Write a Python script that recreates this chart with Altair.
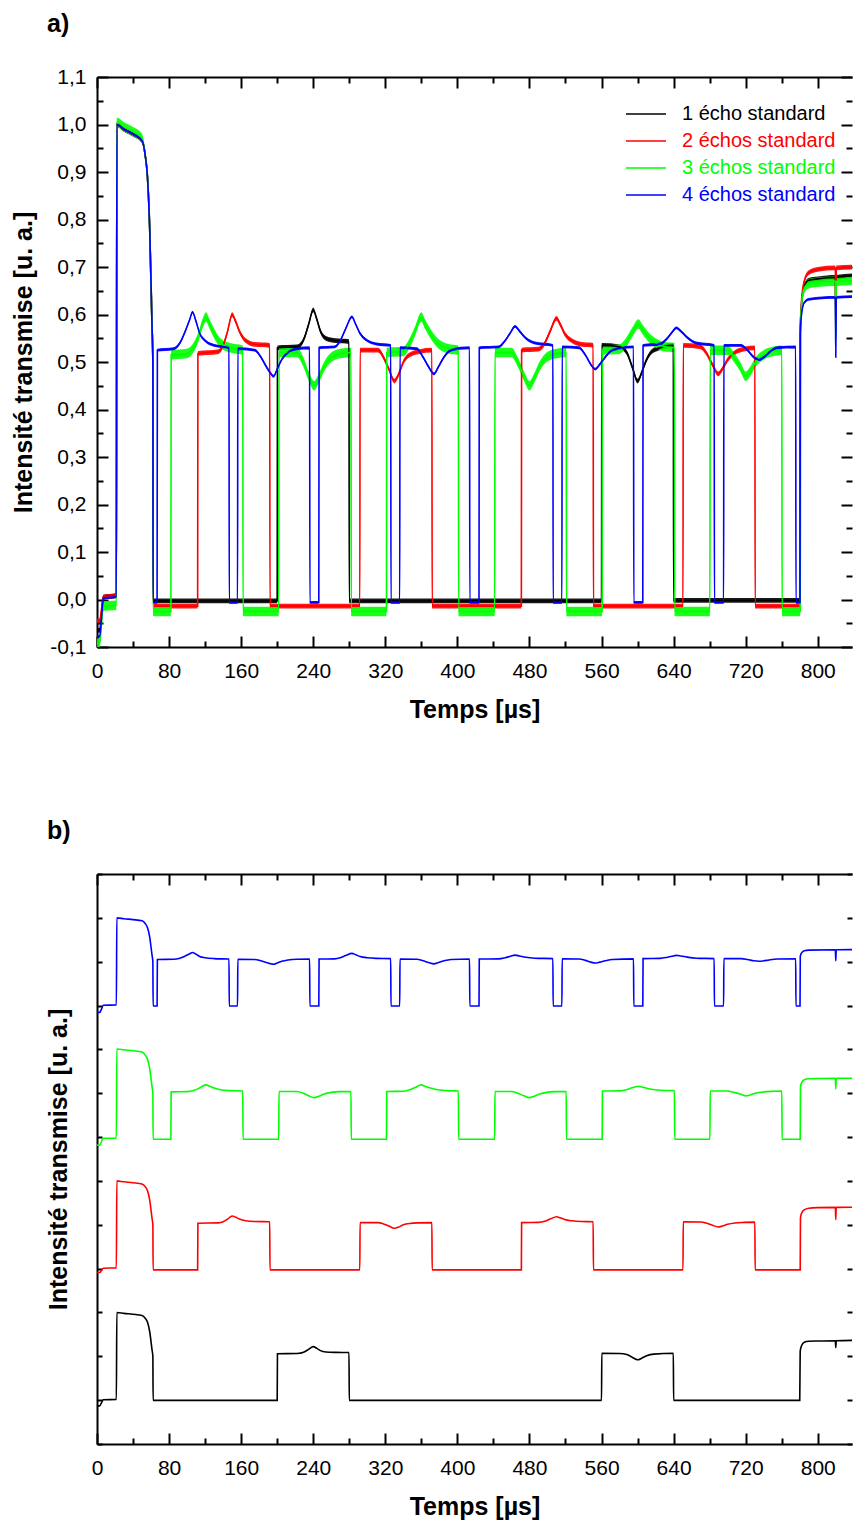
import json
import altair as alt
import pandas as pd

FONT = "Liberation Sans"

SERIES = ["1 écho standard", "2 échos standard", "3 échos standard", "4 échos standard"]
COLORS = ["#000000", "#ff0000", "#00ff00", "#0000ff"]
OFFSETS_B = [0.0, 1.5, 3.0, 4.5]
# half-width of the measurement noise band seen in panel a (intensity units)
NOISE = [0.005, 0.005, 0.01, 0.003]

# (time [µs], transmitted intensity [a.u.])
BLACK = [
    (0, -0.065), (3, -0.065), (5, -0.03), (7, 0.005), (21.5, 0.008), (22, 1.0), (30, 0.99), (40, 0.98),
    (50, 0.966), (53.5, 0.935), (56, 0.89), (58.5, 0.78), (61, 0.58), (62, 0.5), (62.3, -0.003),
    (200, -0.003), (200.3, 0.53), (222, 0.532), (230, 0.55), (235, 0.58), (240, 0.61), (244, 0.59),
    (248, 0.565), (254, 0.55), (265, 0.545), (279.7, 0.543), (280, -0.003),
    (560, -0.003), (560.3, 0.535), (580, 0.532), (588, 0.52), (594, 0.49), (600, 0.46), (605, 0.48),
    (610, 0.505), (618, 0.525), (639.7, 0.535), (640, -0.002),
    (780, -0.002), (780.5, 0.56), (782, 0.62), (785, 0.66), (790, 0.672), (800, 0.675), (819.5, 0.678),
    (820, 0.6), (820.5, 0.678), (846, 0.682),
]
RED = [
    (0, -0.045), (3, -0.045), (5, -0.02), (7, 0.005), (21.5, 0.008), (22, 1.0), (30, 0.99), (40, 0.98),
    (50, 0.966), (53.5, 0.935), (56, 0.89), (58.5, 0.78), (61, 0.58), (62, 0.5), (62.3, -0.014),
    (111.7, -0.014), (112, 0.518), (135, 0.522), (140, 0.535), (145, 0.565), (150, 0.6), (154, 0.585),
    (158, 0.565), (165, 0.545), (175, 0.537), (191.7, 0.535), (192, -0.014),
    (291.7, -0.014), (292, 0.525), (312, 0.525), (318, 0.51), (324, 0.485), (330, 0.46), (335, 0.475),
    (340, 0.5), (347, 0.515), (358, 0.522), (371.7, 0.525), (372, -0.014),
    (471, -0.014), (471.3, 0.525), (490, 0.527), (497, 0.54), (503, 0.565), (510, 0.592), (514, 0.58),
    (519, 0.56), (527, 0.545), (538, 0.537), (550.7, 0.535), (551, -0.014),
    (650.4, -0.014), (650.7, 0.535), (670, 0.532), (676, 0.52), (683, 0.495), (689.6, 0.475), (694, 0.485),
    (700, 0.505), (708, 0.52), (718, 0.527), (730.2, 0.53), (730.5, -0.014),
    (780.5, -0.014), (780.8, 0.58), (782, 0.63), (785, 0.67), (790, 0.688), (800, 0.695), (819.5, 0.698),
    (820, 0.56), (820.5, 0.698), (846, 0.7),
]
GREEN = [
    (0, -0.092), (3, -0.092), (5, -0.05), (7, -0.014), (21.5, -0.012), (22, 1.005), (30, 0.995), (40, 0.985),
    (50, 0.97), (53.5, 0.935), (56, 0.89), (58.5, 0.78), (61, 0.58), (62, 0.5), (62.3, -0.025),
    (82, -0.025), (82.3, 0.515), (100, 0.518), (107, 0.53), (113, 0.555), (117, 0.58), (121, 0.595),
    (125, 0.58), (130, 0.56), (137, 0.54), (148, 0.53), (161.8, 0.525), (162.1, -0.025),
    (201.7, -0.025), (202, 0.52), (222, 0.52), (229, 0.5), (235, 0.47), (241, 0.45), (246, 0.465),
    (252, 0.49), (260, 0.51), (270, 0.518), (281.9, 0.52), (282.2, -0.025),
    (321.3, -0.025), (321.6, 0.52), (340, 0.522), (347, 0.54), (353, 0.565), (360, 0.595), (364, 0.58),
    (370, 0.56), (378, 0.54), (390, 0.528), (401.1, 0.525), (401.4, -0.025),
    (441.4, -0.025), (441.7, 0.52), (460, 0.52), (467, 0.5), (474, 0.47), (480, 0.45), (485, 0.465),
    (491, 0.49), (499, 0.51), (510, 0.518), (520.8, 0.52), (521.1, -0.025),
    (560.7, -0.025), (561, 0.525), (580, 0.527), (587, 0.54), (594, 0.562), (601, 0.58), (605, 0.57),
    (611, 0.555), (620, 0.54), (630, 0.532), (640.9, 0.53), (641.2, -0.025),
    (680.3, -0.025), (680.6, 0.525), (700, 0.525), (707, 0.51), (714, 0.49), (720, 0.47), (725, 0.48),
    (731, 0.5), (740, 0.515), (750, 0.522), (760.1, 0.525), (760.4, -0.025),
    (780.5, -0.025), (780.8, 0.57), (782, 0.62), (785, 0.655), (790, 0.665), (800, 0.668), (819.5, 0.67),
    (820, 0.55), (820.5, 0.67), (846, 0.672),
]
BLUE = [
    (0, -0.078), (3, -0.078), (5, -0.04), (7, 0.003), (21.5, 0.006), (22, 1.0), (30, 0.99), (40, 0.98),
    (50, 0.966), (53.5, 0.935), (56, 0.89), (58.5, 0.78), (61, 0.58), (62, 0.5), (62.3, -0.006),
    (66.7, -0.006), (67, 0.525),
    (85, 0.528), (92, 0.54), (98, 0.565), (103, 0.59), (106, 0.605), (110, 0.585), (114, 0.56), (120, 0.545),
    (130, 0.535), (146.5, 0.53), (146.8, -0.006), (156, -0.006), (156.3, 0.528),
    (175, 0.525), (182, 0.51), (188, 0.49), (192, 0.478), (196, 0.47), (200, 0.485), (205, 0.505),
    (212, 0.52), (222, 0.528), (236, 0.53), (236.3, -0.006), (246.2, -0.006), (246.5, 0.53),
    (264, 0.532), (270, 0.545), (276, 0.57), (283, 0.595), (287, 0.58), (292, 0.56), (300, 0.545),
    (310, 0.538), (326, 0.535), (326.3, -0.006), (336, -0.006), (336.3, 0.53),
    (355, 0.528), (362, 0.51), (368, 0.49), (374, 0.475), (379, 0.49), (385, 0.51), (393, 0.525),
    (413.5, 0.53), (413.8, -0.006), (424, -0.006), (424.3, 0.53),
    (446, 0.532), (453, 0.545), (459, 0.562), (464, 0.575), (469, 0.565), (476, 0.55), (486, 0.54),
    (506, 0.535), (506.3, -0.006), (516, -0.006), (516.3, 0.532),
    (535, 0.53), (542, 0.515), (548, 0.495), (553, 0.485), (558, 0.495), (564, 0.51), (572, 0.525),
    (595.5, 0.532), (595.8, -0.006), (605.8, -0.006), (606.1, 0.535),
    (625, 0.538), (632, 0.548), (638, 0.562), (643, 0.572), (648, 0.565), (655, 0.552), (665, 0.54),
    (685, 0.535), (685.3, -0.006), (695.5, -0.006), (695.8, 0.535),
    (715, 0.535), (722, 0.525), (729, 0.51), (735, 0.505), (740, 0.51), (746, 0.52), (755, 0.53),
    (775.5, 0.532), (775.8, -0.006), (780.3, -0.006), (780.6, 0.56), (782, 0.6), (785, 0.625), (790, 0.632),
    (819.5, 0.636), (820, 0.51), (820.5, 0.636), (846, 0.638),
]

X_DOMAIN = [0, 838]
X_TICKS = [0, 40, 80, 120, 160, 200, 240, 280, 320, 360, 400, 440, 480, 520, 560, 600, 640, 680, 720, 760, 800]
YA_DOMAIN = [-0.1, 1.1]
YA_TICKS = [-0.1, -0.05, 0.0, 0.05, 0.1, 0.15, 0.2, 0.25, 0.3, 0.35, 0.4, 0.45, 0.5, 0.55, 0.6, 0.65,
            0.7, 0.75, 0.8, 0.85, 0.9, 0.95, 1.0, 1.05, 1.1]
YB_DOMAIN = [-0.5, 6.0]
YB_TICKS = [-0.5, 0.0, 0.5, 1.0, 1.5, 2.0, 2.5, 3.0, 3.5, 4.0, 4.5, 5.0, 5.5, 6.0]

rows = []
for name, pts, off, amp in zip(SERIES, [BLACK, RED, GREEN, BLUE], OFFSETS_B, NOISE):
    for t, v in pts:
        rows.append({"t": t, "v": v, "lo": v - amp, "hi": v + amp, "vb": v + off, "series": name})
df = pd.DataFrame(rows)

W, H = 755, 570

AX = dict(domainColor="black", domainWidth=2, tickColor="black", tickWidth=2, grid=False,
          labelFont=FONT, labelFontSize=21, labelColor="black",
          titleFont=FONT, titleFontSize=25, titleFontWeight="bold", titleColor="black")

XMAJ = "datum.value % 80 === 0"
X_TS = {"expr": f"{XMAJ} ? 11 : 6"}
YMAJ = "abs(datum.value * 10 - round(datum.value * 10)) < 0.001"
YA_TS = {"expr": f"{YMAJ} ? 11 : 6"}
YB_TS = {"expr": "5"}
OFF_H = {"expr": str(-H)}
OFF_W = {"expr": str(-W)}

x_scale = alt.Scale(domain=X_DOMAIN, nice=False, zero=False)
color_scale = alt.Scale(domain=SERIES, range=COLORS)
label_color_expr = f"{json.dumps(COLORS)}[indexof({json.dumps(SERIES, ensure_ascii=False)}, datum.value)]"

ya_label_expr = f"{YMAJ} ? replace(replace(format(datum.value, '.1f'), '.', ','), '\u2212', '-') : ''"


def make_panel(yfield, y_scale, y_ticks, y_ts, y_label_axis, stroke_w, legend, title_text, title_offset,
               band=False):
    lines = alt.Chart(df).mark_line(strokeWidth=stroke_w, clip=True, interpolate="monotone").encode(
        x=alt.X("t:Q", scale=x_scale,
                axis=alt.Axis(orient="bottom", values=X_TICKS, ticks=False,
                              labelExpr=f"{XMAJ} ? datum.label : ''", labelPadding=13, labelFlush=False,
                              labelOverlap=False, title="Temps [µs]", titlePadding=16, **AX)),
        y=alt.Y(f"{yfield}:Q", scale=y_scale, axis=y_label_axis),
        color=alt.Color("series:N", scale=color_scale, legend=legend),
    )
    # inward ticks on bottom / left edges
    ticks1 = alt.Chart(df).mark_line(opacity=0, clip=True).encode(
        x=alt.X("t:Q", scale=x_scale,
                axis=alt.Axis(orient="top", offset=OFF_H, values=X_TICKS, tickSize=X_TS, labels=False,
                              domain=False, title=None, **AX)),
        y=alt.Y(f"{yfield}:Q", scale=y_scale,
                axis=alt.Axis(orient="right", offset=OFF_W, values=y_ticks, tickSize=y_ts, labels=False,
                              domain=False, title=None, **AX)),
    )
    # top frame with inward ticks, right inward ticks
    ticks2 = alt.Chart(df).mark_line(opacity=0, clip=True).encode(
        x=alt.X("t:Q", scale=x_scale,
                axis=alt.Axis(orient="bottom", offset=OFF_H, values=X_TICKS, tickSize=X_TS, labels=False,
                              domain=True, title=None, **AX)),
        y=alt.Y(f"{yfield}:Q", scale=y_scale,
                axis=alt.Axis(orient="left", offset=OFF_W, values=y_ticks, tickSize=y_ts, labels=False,
                              domain=False, title=None, **AX)),
    )
    layers = [lines, ticks1, ticks2]
    if band:
        noise = alt.Chart(df).mark_area(clip=True, opacity=0.9, interpolate="monotone").encode(
            x=alt.X("t:Q", scale=x_scale, axis=None),
            y=alt.Y("lo:Q", scale=y_scale, axis=None),
            y2="hi:Q",
            fill=alt.Fill("series:N", scale=color_scale, legend=None),
            detail="series:N",
        )
        layers = [noise] + layers
    return alt.layer(*layers).resolve_axis(x="independent", y="independent").properties(
        width=W, height=H,
        title=alt.TitleParams(title_text, anchor="start", frame="group", dx=-50, offset=title_offset,
                              fontSize=25, fontWeight="bold", font=FONT, baseline="alphabetic",
                              color="black"),
    )


legend_a = alt.Legend(title=None, orient="none", legendX=528, legendY=27, symbolType="stroke",
                      symbolSize=1600, symbolStrokeWidth=1.5, labelFont=FONT, labelFontSize=20,
                      labelColor={"expr": label_color_expr}, labelOffset=15, rowPadding=7, clipHeight=20)

ya_scale = alt.Scale(domain=YA_DOMAIN, nice=False, zero=False)
ya_axis = alt.Axis(orient="left", values=YA_TICKS, ticks=False, labelExpr=ya_label_expr, labelPadding=11,
                   labelOverlap=False, labelFlush=False, title="Intensité transmise [u. a.]",
                   titlePadding=13, **AX)
panel_a = make_panel("v", ya_scale, YA_TICKS, YA_TS, ya_axis, 1.6, legend_a, "a)", 9, band=True)

yb_scale = alt.Scale(domain=YB_DOMAIN, nice=False, zero=False)
yb_axis = alt.Axis(orient="left", values=YB_TICKS, ticks=False, labels=False, minExtent=0,
                   title="Intensité transmise [u. a.]", titlePadding=26, **AX)
panel_b = make_panel("vb", yb_scale, YB_TICKS, YB_TS, yb_axis, 1.6, None, "b)", 9)

chart = alt.vconcat(panel_a, panel_b, spacing=227, bounds="flush").resolve_scale(
    color="independent"
).configure(
    font=FONT, padding={"left": 3, "top": 3, "right": 0, "bottom": 0}
).configure_view(stroke="transparent")

chart.save("out.html", embed_options={"renderer": "svg", "actions": False})
